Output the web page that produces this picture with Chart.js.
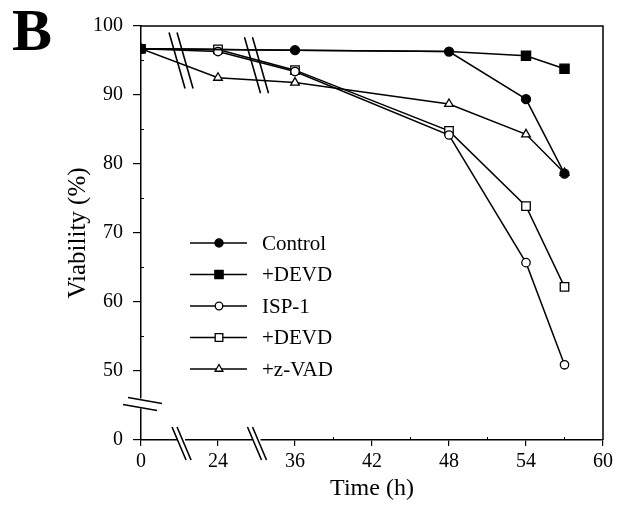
<!DOCTYPE html>
<html>
<head>
<meta charset="utf-8">
<script src="https://cdn.jsdelivr.net/npm/chart.js@4/dist/chart.umd.min.js"></script>
<style>
  html, body { margin: 0; padding: 0; background: #fff; }
  #wrap { position: relative; width: 618px; height: 508px; }
  #panel {
    position: absolute; left: 12px; top: 0px;
    font: bold 60px "Liberation Serif", serif; line-height: 60px; color: #000;
  }
</style>
</head>
<body>
<div id="wrap">
  <canvas id="chart" width="618" height="508"></canvas>
  <div id="panel">B</div>
</div>
<script>
// Time points (h) and viability (%) per condition
const times = [0, 24, 36, 48, 54, 57];
const control = [96.7, null, 96.5, 96.3, 89.4, 78.6];
const controlDevd = [96.7, null, 96.5, 96.3, 95.7, 93.8];
const isp1 = [96.7, 96.3, 93.4, 84.2, 65.7, 50.9];
const isp1Devd = [96.7, 96.6, 93.6, 84.8, 73.9, 62.2];
const isp1Zvad = [96.7, 92.5, 91.8, 88.7, 84.3, 78.7];

const seriesNames = ["Control", "+DEVD", "ISP-1", "+DEVD", "+z-VAD"];

// broken x axis: ticks 0, 24, 36, 42, 48, 54, 60 equally spaced
const xTickHours = [0, 24, 36, 42, 48, 54, 60];
// broken y axis: 0 shown where 40 would be
const yTickLabels = { 40: "0", 50: "50", 60: "60", 70: "70", 80: "80", 90: "90", 100: "100" };

function hourToPos(h) {
  for (let i = 1; i < xTickHours.length; i++) {
    if (h <= xTickHours[i]) {
      const a = xTickHours[i - 1], b = xTickHours[i];
      return i - 1 + (h - a) / (b - a);
    }
  }
  return xTickHours.length - 1;
}

function toPoints(values) {
  return times.map((t, i) => ({ x: hourToPos(t), y: values[i] }));
}

const serif = "'Liberation Serif', 'Times New Roman', serif";

function makeSet(label, values, style, filled, radius) {
  return {
    label: label,
    data: toPoints(values),
    borderColor: "#000",
    borderWidth: 1.5,
    pointStyle: style,
    pointRadius: radius,
    pointHoverRadius: radius,
    pointBorderWidth: 1.3,
    pointBorderColor: "#000",
    pointBackgroundColor: filled ? "#000" : "#fff",
    spanGaps: true,
    tension: 0,
  };
}

const datasets = [
  makeSet(seriesNames[0], control, "circle", true, 4.5),
  makeSet(seriesNames[1], controlDevd, "rect", true, 6.5),
  makeSet(seriesNames[2], isp1, "circle", false, 4.2),
  makeSet(seriesNames[3], isp1Devd, "rect", false, 6),
  makeSet(seriesNames[4], isp1Zvad, "triangle", false, 5),
];
// filled squares hide under the control circles where both are equal
datasets[1].pointRadius = (c) => (controlDevd[c.dataIndex] === control[c.dataIndex] ? 0 : 6.5);

// frame, minor ticks, axis breaks and the in-plot legend
const decorations = {
  id: "decorations",
  afterDraw(chart) {
    const { ctx, chartArea: a, scales } = chart;
    const xs = scales.x, ys = scales.y;
    ctx.save();
    ctx.strokeStyle = "#000";
    ctx.lineWidth = 1.5;
    // top and right frame
    ctx.beginPath();
    ctx.moveTo(a.left, a.top);
    ctx.lineTo(a.right, a.top);
    ctx.lineTo(a.right, a.bottom);
    ctx.stroke();

    // minor ticks
    ctx.lineWidth = 1;
    ctx.beginPath();
    for (let v = 55; v < 100; v += 10) {
      const y = ys.getPixelForValue(v);
      ctx.moveTo(a.left, y); ctx.lineTo(a.left + 3, y);
    }
    for (let p = 2.5; p < 6; p += 1) {
      const x = xs.getPixelForValue(p);
      ctx.moveTo(x, a.bottom); ctx.lineTo(x, a.bottom - 3);
    }
    ctx.stroke();

    // y axis break
    const yb = ys.getPixelForValue(45.3);
    ctx.fillStyle = "#fff";
    ctx.fillRect(a.left - 2, yb - 5, 4, 10);
    ctx.lineWidth = 1.6;
    ctx.beginPath();
    ctx.moveTo(a.left - 13, yb - 6); ctx.lineTo(a.left + 21, yb);
    ctx.moveTo(a.left - 18, yb + 1); ctx.lineTo(a.left + 16, yb + 7);
    ctx.stroke();

    // x axis breaks + breaks through the data
    [[0.52, 95], [1.5, 94.3]].forEach(([p, v]) => {
      const xb = xs.getPixelForValue(p);
      ctx.fillStyle = "#fff";
      ctx.fillRect(xb - 4, a.bottom - 2, 8, 4);
      ctx.beginPath();
      ctx.moveTo(xb - 9, a.bottom - 13); ctx.lineTo(xb + 5, a.bottom + 20);
      ctx.moveTo(xb - 4, a.bottom - 13); ctx.lineTo(xb + 10, a.bottom + 20);
      ctx.stroke();
      const yt = ys.getPixelForValue(v);
      ctx.beginPath();
      ctx.moveTo(xb - 12, yt - 28); ctx.lineTo(xb + 4, yt + 28);
      ctx.moveTo(xb - 4, yt - 28); ctx.lineTo(xb + 12, yt + 28);
      ctx.stroke();
    });

    // legend
    ctx.font = "21px " + serif;
    ctx.textBaseline = "middle";
    ctx.textAlign = "left";
    const legendRadius = [4.5, 6.5, 4.2, 6, 5];
    chart.data.datasets.forEach((ds, i) => {
      const y = 243 + i * 31.5;
      ctx.strokeStyle = "#000";
      ctx.lineWidth = 1.5;
      ctx.beginPath();
      ctx.moveTo(190, y); ctx.lineTo(247, y);
      ctx.stroke();
      ctx.fillStyle = ds.pointBackgroundColor;
      ctx.lineWidth = ds.pointBorderWidth;
      Chart.helpers.drawPoint(ctx, {
        pointStyle: ds.pointStyle,
        radius: legendRadius[i] * 0.9,
        rotation: 0,
        borderWidth: ds.pointBorderWidth,
      }, 219, y);
      ctx.fillStyle = "#000";
      ctx.fillText(ds.label, 262, y + 1);
    });
    ctx.restore();
  },
};

new Chart(document.getElementById("chart"), {
  type: "line",
  data: { datasets: datasets },
  options: {
    responsive: false,
    animation: false,
    layout: { padding: { top: 26, right: 15, left: 0, bottom: 0 } },
    plugins: { legend: { display: false }, tooltip: { enabled: false } },
    scales: {
      x: {
        type: "linear",
        min: 0,
        max: xTickHours.length - 1,
        afterFit: (s) => { s.height = 68; },
        ticks: {
          stepSize: 1,
          color: "#000",
          font: { family: serif, size: 20 },
          padding: 4,
          maxRotation: 0,
          callback: (v) => xTickHours[v] !== undefined ? String(xTickHours[v]) : "",
        },
        grid: { display: true, drawOnChartArea: false, drawTicks: true, tickLength: 6, color: "#000", lineWidth: 1.2 },
        border: { display: true, color: "#000", width: 1.5 },
        title: {
          display: true, text: "Time (h)", color: "#000",
          font: { family: serif, size: 24 }, padding: { top: 0, bottom: 5 },
        },
      },
      y: {
        type: "linear",
        min: 40,
        max: 100,
        afterFit: (s) => { s.width = 141; },
        ticks: {
          stepSize: 10,
          color: "#000",
          font: { family: serif, size: 20 },
          padding: 10,
          callback: (v) => yTickLabels[v] || "",
        },
        grid: { display: true, drawOnChartArea: false, drawTicks: true, tickLength: 8, color: "#000", lineWidth: 1.2 },
        border: { display: true, color: "#000", width: 1.5 },
        title: {
          display: true, text: "Viability (%)", color: "#000",
          font: { family: serif, size: 25 }, padding: { top: 63, bottom: 0 },
        },
      },
    },
  },
  plugins: [decorations],
});
</script>
</body>
</html>
